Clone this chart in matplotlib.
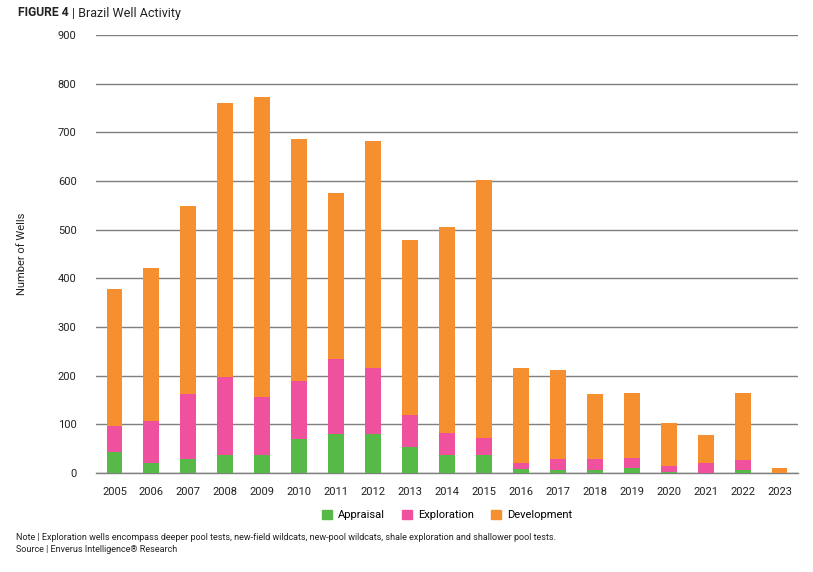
import numpy as np
import matplotlib
matplotlib.use("Agg")
import matplotlib.pyplot as plt
from matplotlib.patches import Patch

# values
years = ["2005", "2006", "2007", "2008", "2009", "2010", "2011", "2012", "2013", "2014",
         "2015", "2016", "2017", "2018", "2019", "2020", "2021", "2022", "2023"]
appraisal = [44, 21, 29, 38, 38, 70, 81, 81, 53, 37, 36, 8, 7, 7, 11, 3, 0, 7, 0]
exploration_top = [97, 107, 163, 198, 157, 189, 235, 216, 120, 82, 72, 20, 29, 29, 31, 15, 20, 27, 0]
total = [378, 421, 548, 760, 772, 686, 575, 682, 479, 505, 602, 216, 212, 163, 165, 102, 78, 165, 10]

exploration = [e - a for e, a in zip(exploration_top, appraisal)]
development = [t - e for t, e in zip(total, exploration_top)]

GREEN = "#57B947"
PINK = "#F0519E"
ORANGE = "#F68F30"

plt.rcParams['font.family'] = ['Roboto', 'DejaVu Sans']

fig = plt.figure(figsize=(8.13, 5.72), dpi=100)
ax = fig.add_axes([96 / 813, 99 / 572, 702 / 813, 438 / 572])

x = np.arange(len(years))
width = 0.43
ax.bar(x, appraisal, width, color=GREEN, zorder=3)
ax.bar(x, exploration, width, bottom=appraisal, color=PINK, zorder=3)
ax.bar(x, development, width, bottom=exploration_top, color=ORANGE, zorder=3)

ax.set_xlim(-0.5, len(years) - 0.5)
ax.set_ylim(0, 900)
ax.set_yticks(range(0, 901, 100))
ax.set_xticks(x)
ax.set_xticklabels(years)
ax.yaxis.grid(True, color="#7f7f7f", linewidth=1.0, zorder=0)
ax.tick_params(axis="both", length=0, labelsize=8, colors="#222222")
ax.tick_params(axis="y", pad=14)
ax.tick_params(axis="x", pad=10)
for s in ["top", "right", "left"]:
    ax.spines[s].set_visible(False)
ax.spines["bottom"].set_color("#7f7f7f")
ax.spines["bottom"].set_linewidth(1.0)

ax.set_ylabel("Number of Wells", fontsize=8, color="#222222", labelpad=22)

# title
fig.text(18 / 813, 1 - 13 / 572, "FIGURE 4", fontsize=8.7, fontweight="bold",
         va="center", ha="left", color="#222222")
fig.text(72 / 813, 1 - 13 / 572, "| Brazil Well Activity", fontsize=9,
         va="center", ha="left", color="#222222")

# legend
handles = [Patch(color=GREEN, label="Appraisal"),
           Patch(color=PINK, label="Exploration"),
           Patch(color=ORANGE, label="Development")]
fig.legend(handles=handles, loc="center", bbox_to_anchor=(447 / 813, 1 - 515 / 572),
           ncol=3, frameon=False, fontsize=8, handlelength=0.9, handleheight=0.9,
           columnspacing=1.6, handletextpad=0.5)

# notes
fig.text(16 / 813, 1 - 538 / 572,
         "Note | Exploration wells encompass deeper pool tests, new-field wildcats, new-pool wildcats, shale exploration and shallower pool tests.",
         fontsize=6.5, va="center", ha="left", color="#222222")
fig.text(16 / 813, 1 - 549 / 572, "Source | Enverus Intelligence\u00ae Research",
         fontsize=6.5, va="center", ha="left", color="#222222")

fig.savefig("out.png", dpi=100)
